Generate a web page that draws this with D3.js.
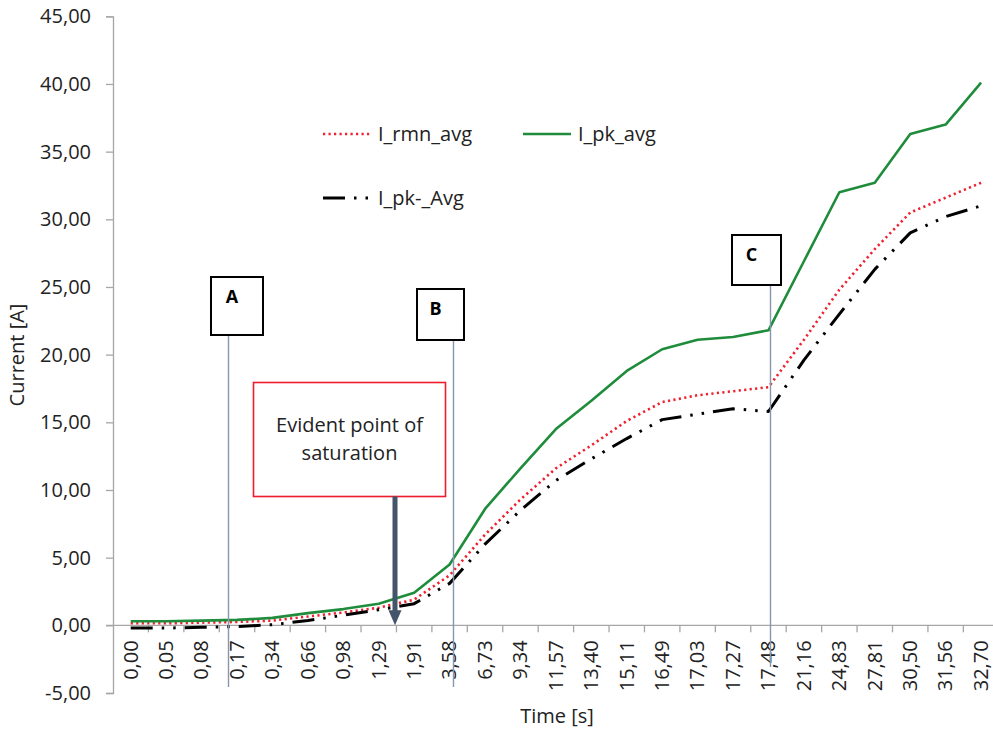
<!DOCTYPE html>
<html>
<head>
<meta charset="utf-8">
<script src="https://cdn.jsdelivr.net/npm/d3@7"></script>
<style>
  html, body { margin: 0; padding: 0; background: #fff; }
  svg { display: block; font-family: "Open Sans", "Noto Sans", sans-serif; }
</style>
</head>
<body>
<svg id="chart" width="993" height="729"></svg>
<script>
// Time stamps (category axis)
const times = ["0,00","0,05","0,08","0,17","0,34","0,66","0,98","1,29","1,91","3,58",
  "6,73","9,34","11,57","13,40","15,11","16,49","17,03","17,27","17,48","21,16",
  "24,83","27,81","30,50","31,56","32,70"];

// Measured currents [A]
const iRmnAvg = [0.15,0.15,0.2,0.25,0.35,0.65,0.95,1.3,1.9,3.7,
  6.7,9.3,11.6,13.3,15.1,16.5,17.0,17.3,17.6,21.1,
  24.8,27.8,30.5,31.6,32.7];
const iPkAvg = [0.3,0.3,0.35,0.4,0.55,0.9,1.2,1.6,2.4,4.5,
  8.6,11.6,14.5,16.6,18.8,20.4,21.1,21.3,21.8,26.9,
  32.0,32.7,36.3,37.0,40.1];
const iPkNegAvg = [-0.2,-0.2,-0.15,-0.1,0.05,0.35,0.75,1.15,1.6,3.1,
  6.0,8.5,10.7,12.3,13.8,15.2,15.6,16.0,15.8,19.6,
  23.0,26.3,29.0,30.2,31.0];

// Y axis ticks
const yTicks = [-5,0,5,10,15,20,25,30,35,40,45];
const fmt = v => v.toFixed(2).replace(".", ",");

const series = [
  { name: "I_rmn_avg", values: iRmnAvg, color: "#f0202e", width: 2.6, dash: "2.2,3.3" },
  { name: "I_pk_avg", values: iPkAvg, color: "#1f8c3b", width: 2.6, dash: null },
  { name: "I_pk-_Avg", values: iPkNegAvg, color: "#000000", width: 3, dash: "22,9,2.5,9,2.5,9" }
];

const svg = d3.select("#chart");
const axisColor = "#a6a6a6";
const fontSize = 20;

const x = d3.scaleBand().domain(times).range([113, 998.8]).padding(0);
const y = d3.scaleLinear().domain([-5, 45]).range([693, 16.3]);
const cx = t => x(t) + x.bandwidth() / 2;

// Y axis
const yAxis = svg.append("g").attr("transform", `translate(${x.range()[0]},0)`)
  .call(d3.axisLeft(y).tickValues(yTicks).tickFormat(fmt).tickSize(7).tickPadding(15));
yAxis.select(".domain").attr("stroke", axisColor).attr("stroke-width", 1.3);
yAxis.selectAll(".tick line").attr("stroke", axisColor).attr("stroke-width", 1.3);
yAxis.selectAll(".tick text").attr("font-size", fontSize).attr("fill", "#222")
  .attr("font-family", "Open Sans, sans-serif");

// X axis along zero line, ticks between categories
const y0 = y(0);
const xg = svg.append("g");
xg.append("line").attr("x1", x.range()[0] - 7).attr("x2", x.range()[1])
  .attr("y1", y0).attr("y2", y0).attr("stroke", axisColor).attr("stroke-width", 1.3);
xg.selectAll("line.tk").data(times.slice(1)).join("line").attr("class", "tk")
  .attr("x1", d => x(d)).attr("x2", d => x(d))
  .attr("y1", y0).attr("y2", y0 + 7).attr("stroke", axisColor).attr("stroke-width", 1.3);
xg.selectAll("text").data(times).join("text")
  .attr("transform", d => `translate(${cx(d)},${y0 + 15}) rotate(-90)`)
  .attr("text-anchor", "end").attr("dy", "0.34em")
  .attr("font-size", fontSize).attr("fill", "#222").text(d => d);

// Axis titles
svg.append("text").attr("transform", "translate(24,355) rotate(-90)")
  .attr("text-anchor", "middle").attr("font-size", fontSize).attr("fill", "#222")
  .text("Current [A]");
svg.append("text").attr("x", 557).attr("y", 723).attr("text-anchor", "middle")
  .attr("font-size", fontSize).attr("fill", "#222").text("Time [s]");

// Data lines
const line = d3.line().x((d, i) => cx(times[i])).y(d => y(d));
series.forEach(s => {
  svg.append("path").datum(s.values).attr("d", line)
    .attr("fill", "none").attr("stroke", s.color).attr("stroke-width", s.width)
    .attr("stroke-dasharray", s.dash).attr("stroke-linejoin", "round");
});

// Legend
const legend = [
  { s: series[0], x: 323, y: 134 },
  { s: series[1], x: 523, y: 134 },
  { s: series[2], x: 323, y: 198 }
];
legend.forEach(l => {
  svg.append("line").attr("x1", l.x).attr("x2", l.x + 48).attr("y1", l.y).attr("y2", l.y)
    .attr("stroke", l.s.color).attr("stroke-width", l.s.width)
    .attr("stroke-dasharray", l.s.dash);
  svg.append("text").attr("x", l.x + 55).attr("y", l.y).attr("dy", "0.35em")
    .attr("font-size", fontSize).attr("fill", "#222").text(l.s.name);
});

// Marker lines with labelled boxes
const markers = [
  { label: "A", lx: 228.5, box: [211, 277, 52, 58], bottom: 687 },
  { label: "B", lx: 453.5, box: [417, 289, 47, 51], bottom: 687 },
  { label: "C", lx: 770.5, box: [732, 235, 49, 50], bottom: 667 }
];
markers.forEach(m => {
  const [bx, by, bw, bh] = m.box;
  svg.append("line").attr("x1", m.lx).attr("x2", m.lx).attr("y1", by + bh).attr("y2", m.bottom)
    .attr("stroke", "#8797ad").attr("stroke-width", 1.4);
  svg.append("rect").attr("x", bx).attr("y", by).attr("width", bw).attr("height", bh)
    .attr("fill", "#fff").attr("stroke", "#000").attr("stroke-width", 2);
  svg.append("text").attr("x", bx + bw / 2 - 5).attr("y", by + 20)
    .attr("dy", "0.35em").attr("text-anchor", "middle").attr("font-weight", "bold")
    .attr("font-size", 18).attr("fill", "#000").text(m.label);
});

// Saturation callout with arrow down to the axis
const cb = { x: 253.5, y: 382.5, w: 192, h: 114 };
svg.append("rect").attr("x", cb.x).attr("y", cb.y).attr("width", cb.w).attr("height", cb.h)
  .attr("fill", "#fff").attr("stroke", "#ee1c2e").attr("stroke-width", 1.6);
svg.append("text").attr("x", cb.x + cb.w / 2).attr("y", 425).attr("dy", "0.35em")
  .attr("text-anchor", "middle").attr("font-size", fontSize).attr("fill", "#222")
  .text("Evident point of");
svg.append("text").attr("x", cb.x + cb.w / 2).attr("y", 453).attr("dy", "0.35em")
  .attr("text-anchor", "middle").attr("font-size", fontSize).attr("fill", "#222")
  .text("saturation");
const ax = 395;
svg.append("path")
  .attr("d", `M${ax - 2.5},${cb.y + cb.h} L${ax + 2.5},${cb.y + cb.h} L${ax + 2.5},${y0 - 15}
    L${ax + 6.5},${y0 - 15} L${ax},${y0} L${ax - 6.5},${y0 - 15} L${ax - 2.5},${y0 - 15} Z`)
  .attr("fill", "#44546a");
</script>
</body>
</html>
